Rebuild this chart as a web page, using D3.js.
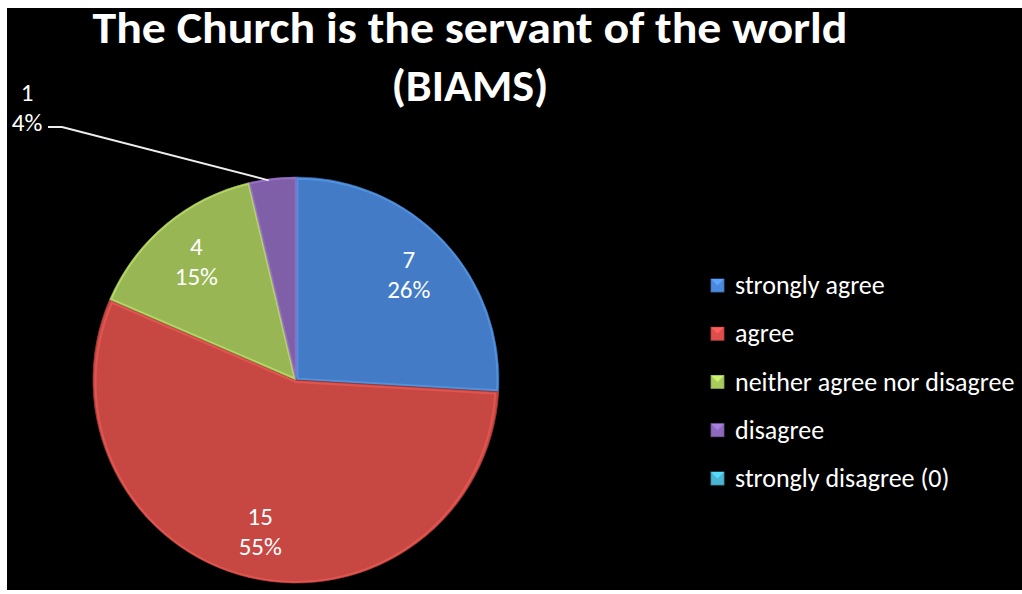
<!DOCTYPE html>
<html><head><meta charset="utf-8">
<script src="https://cdn.jsdelivr.net/npm/d3@7"></script>
<style>html,body{margin:0;padding:0;background:#fff;}svg{display:block;}</style>
</head><body>
<svg id="chart" width="1022" height="594"></svg>
<script>
const categories = ["strongly agree", "agree", "neither agree nor disagree", "disagree", "strongly disagree (0)"];
const values = [7, 15, 4, 1, 0];
const percentLabels = ["26%", "55%", "15%", "4%", "0%"];
const colors = ["#4b89dc", "#de4f4b", "#a9cb5e", "#8d6abb", "#4ab6d4"];
const titleLines = ["The Church is the servant of the world", "(BIAMS)"];

const svg = d3.select("#chart");
const font = "Calibri, Lato, 'Open Sans', sans-serif";

svg.append("rect").attr("x", 7).attr("y", 8).attr("width", 1015).attr("height", 582).attr("fill", "#000");

// title
svg.append("text").attr("x", 470).attr("y", 43).attr("text-anchor", "middle")
  .attr("font-family", font).attr("font-weight", "bold").attr("font-size", 44).attr("fill", "#fff")
  .attr("textLength", 755).attr("lengthAdjust", "spacingAndGlyphs").text(titleLines[0]);
svg.append("text").attr("x", 470).attr("y", 101).attr("text-anchor", "middle")
  .attr("font-family", font).attr("font-weight", "bold").attr("font-size", 44).attr("fill", "#fff")
  .attr("textLength", 157).attr("lengthAdjust", "spacingAndGlyphs").text(titleLines[1]);

const cx = 296, cy = 380, R = 203;
const data = categories.map((c, i) => ({cat: c, value: values[i], pct: percentLabels[i], color: colors[i]}));
const pie = d3.pie().value(d => d.value).sort(null).startAngle(0).endAngle(2 * Math.PI);
const arcs = pie(data);
const arc = d3.arc().innerRadius(0).outerRadius(R);
const labelArc = d3.arc().innerRadius(155).outerRadius(155);

const defs = svg.append("defs");
data.forEach((d, i) => {
  const g = defs.append("radialGradient").attr("id", "grad" + i)
    .attr("gradientUnits", "userSpaceOnUse").attr("cx", cx).attr("cy", cy).attr("r", R);
  const c = d3.color(d.color);
  g.append("stop").attr("offset", "0%").attr("stop-color", c);
  g.append("stop").attr("offset", "92%").attr("stop-color", c);
  g.append("stop").attr("offset", "100%").attr("stop-color", c.darker(0.3));
});

const gp = svg.append("g").attr("transform", `translate(${cx},${cy})`);
gp.selectAll("path.slice").data(arcs.filter(a => a.data.value > 0)).join("path")
  .attr("class", "slice")
  .attr("d", arc)
  .attr("fill", (d) => "url(#grad" + data.indexOf(d.data) + ")")
  .attr("stroke", d => d3.color(d.data.color).darker(1))
  .attr("stroke-width", 0.8)
  .attr("stroke-linejoin", "round");

// bevel highlight along inner edges
gp.selectAll("path.hl").data(arcs.filter(a => a.data.value > 0)).join("path")
  .attr("class", "hl")
  .attr("d", d3.arc().innerRadius(0).outerRadius(R - 3))
  .attr("fill", "none")
  .attr("stroke", d => d3.color(d.data.color).brighter(0.7))
  .attr("stroke-opacity", 0.45)
  .attr("stroke-width", 2)
  .attr("transform", d => {
    const m = (d.startAngle + d.endAngle) / 2;
    return `translate(${Math.sin(m) * 2},${-Math.cos(m) * 2})`;
  });

// inside labels
arcs.forEach((a, i) => {
  if (a.data.value <= 0) return;
  if (a.endAngle - a.startAngle < 0.4) return;
  const [x, y] = labelArc.centroid(a);
  const t = gp.append("text").attr("text-anchor", "middle")
    .attr("font-family", font).attr("font-size", 25).attr("fill", "#fff");
  t.append("tspan").attr("x", x).attr("y", y - 6).text(a.data.value);
  t.append("tspan").attr("x", x).attr("y", y + 24).text(a.data.pct);
});

// outside label for small slice (disagree)
const small = arcs[3];
const sm = (small.startAngle + small.endAngle) / 2;
const edge = [cx + Math.sin(sm) * (R - 2), cy - Math.cos(sm) * (R - 2)];
svg.append("polyline")
  .attr("points", `${edge[0] - 4},${edge[1]} 62,127 48,127`)
  .attr("fill", "none").attr("stroke", "#eeeeee").attr("stroke-width", 2);
const t4 = svg.append("text").attr("text-anchor", "middle")
  .attr("font-family", font).attr("font-size", 25).attr("fill", "#fff");
t4.append("tspan").attr("x", 27).attr("y", 101).text(small.data.value);
t4.append("tspan").attr("x", 27).attr("y", 131).text(small.data.pct);

// legend
const legendY = d3.scalePoint().domain(categories).range([285, 478]);
const lg = svg.append("g");
categories.forEach((c, i) => {
  const y = legendY(c);
  const col = d3.color(colors[i]);
  lg.append("rect").attr("x", 711).attr("y", y - 6).attr("width", 13).attr("height", 13)
    .attr("fill", col).attr("stroke", col.darker(0.6)).attr("stroke-width", 0.8);
  lg.append("path").attr("d", `M${711},${y - 6}L${717.5},${y + 0.5}L${724},${y - 6}Z`).attr("fill", col.brighter(0.5));
  lg.append("text").attr("x", 735).attr("y", y + 9)
    .attr("font-family", font).attr("font-size", 26).attr("fill", "#fff").text(c);
});
</script>
</body></html>
